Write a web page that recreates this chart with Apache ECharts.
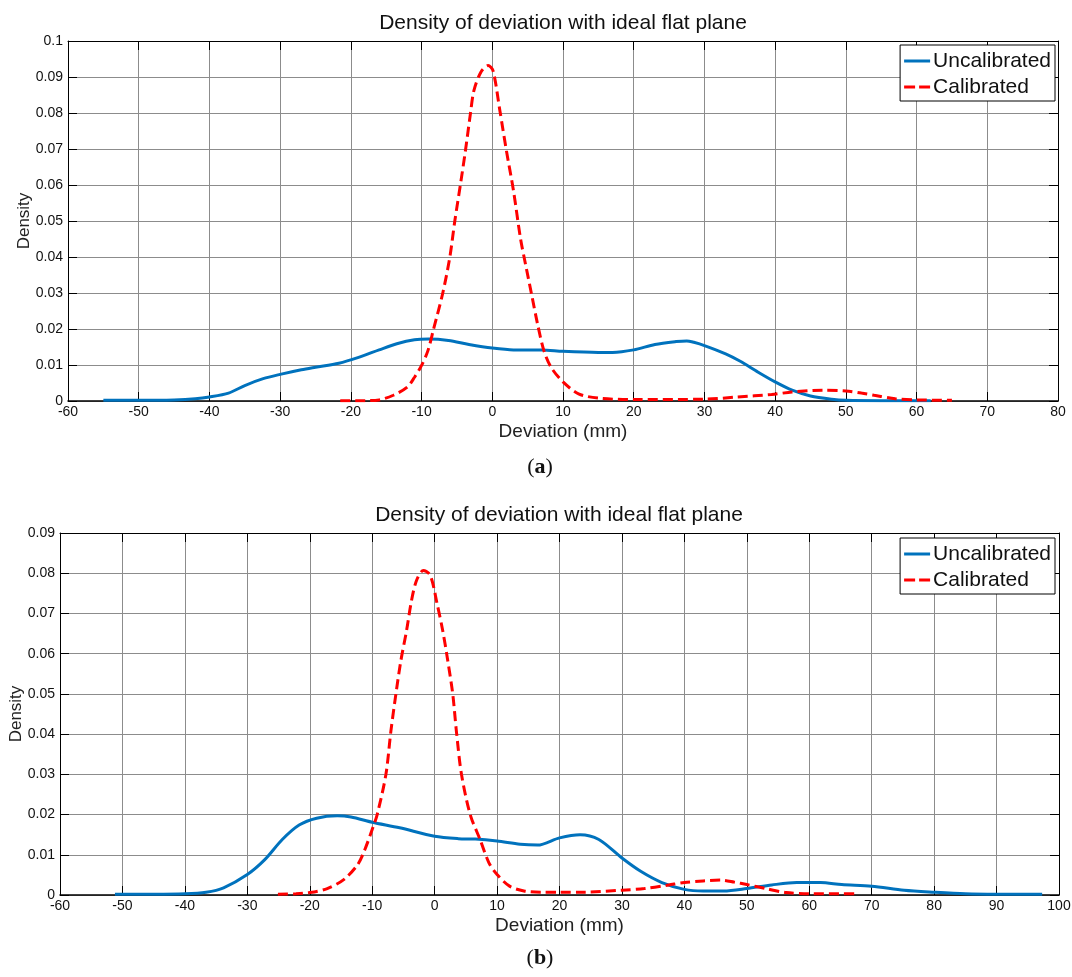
<!DOCTYPE html>
<html>
<head>
<meta charset="utf-8">
<title>Density of deviation with ideal flat plane</title>
<script src="https://cdn.jsdelivr.net/npm/echarts@6/dist/echarts.min.js"></script>
<style>
  html, body { margin: 0; padding: 0; background: #fff; }
  #main { width: 1072px; height: 977px; }
</style>
</head>
<body>
<div id="main"></div>
<script>
// ---- data ----
// (a) deviation (mm) / density
var uncalA_x = [-55, -50, -45, -42, -40, -37.3, -35, -32.4, -30, -27, -25, -21.7, -18.8, -16, -13.5, -11, -9, -6.2, -3.3, 0, 3, 7, 10, 15, 17, 20, 23, 26, 27.5, 28.5, 30, 33, 35, 37.6, 40, 42.4, 45, 48, 50, 55, 62];
var uncalA_y = [0.0002, 0.0002, 0.0003, 0.0006, 0.0011, 0.0022, 0.0043, 0.0062, 0.0074, 0.0087, 0.0094, 0.0105, 0.0122, 0.0142, 0.0159, 0.0170, 0.0172, 0.0168, 0.0157, 0.0147, 0.0142, 0.0142, 0.0138, 0.0135, 0.0135, 0.0142, 0.0157, 0.0165, 0.0167, 0.0163, 0.0154, 0.0131, 0.0111, 0.0080, 0.0053, 0.0030, 0.0014, 0.0005, 0.0002, 0.0001, 0.0001];
var calA_x = [-21.5, -18, -16, -14, -12, -11, -10, -9.1, -8.3, -7, -6, -5.3, -4.5, -3.8, -3.1, -2.6, -1.6, -0.6, 0.1, 1.07, 2, 3, 4, 4.7, 5.6, 6.4, 7.3, 8.3, 10, 12.2, 15, 20, 30, 34.6, 39.5, 42.4, 46.8, 50, 52.2, 54, 57, 60, 65];
var calA_y = [0.0001, 0.0001, 0.0003, 0.0016, 0.0039, 0.0066, 0.0099, 0.0140, 0.0200, 0.0300, 0.0400, 0.0500, 0.0602, 0.0695, 0.0797, 0.0862, 0.0914, 0.0932, 0.0918, 0.0807, 0.0695, 0.0584, 0.0450, 0.0380, 0.0292, 0.0214, 0.0140, 0.0094, 0.0053, 0.0020, 0.0008, 0.0004, 0.0005, 0.0011, 0.0018, 0.0025, 0.0030, 0.0028, 0.0022, 0.0016, 0.0006, 0.0003, 0.0002];

// (b) deviation (mm) / density
var uncalB_x = [-51.2, -45, -40, -36.6, -33.8, -30, -27.2, -24.4, -21.7, -18.9, -15.6, -13.4, -10, -5.6, 0, 3.8, 6.5, 10, 13.7, 16.5, 20, 23.3, 26.3, 30, 33, 36.4, 40, 43, 46.3, 50, 54, 58, 61.8, 65.2, 70, 75.2, 80, 85, 90, 97.3];
var uncalB_y = [0.0002, 0.0002, 0.0003, 0.0007, 0.0018, 0.0051, 0.0088, 0.0138, 0.0174, 0.0191, 0.0197, 0.0194, 0.0181, 0.0167, 0.0146, 0.0140, 0.0139, 0.0134, 0.0126, 0.0124, 0.0142, 0.0150, 0.0138, 0.0092, 0.0059, 0.0031, 0.0014, 0.0010, 0.0010, 0.0016, 0.0025, 0.0031, 0.0031, 0.0026, 0.0022, 0.0012, 0.0007, 0.0003, 0.0002, 0.0002];
var calB_x = [-25.1, -22.2, -20, -17.2, -14.5, -12.3, -11.2, -10, -9.2, -7.8, -7, -6.2, -5.4, -4.5, -3.7, -2.9, -1.8, -0.7, 0.4, 1.3, 2.1, 2.9, 3.5, 4.3, 5.7, 7.3, 8.7, 10, 12, 14.3, 17, 20, 24, 30, 33.6, 37.5, 40, 43, 45.8, 48, 50, 53, 56.3, 60, 67.3];
var calB_y = [0.0002, 0.0003, 0.0006, 0.0016, 0.0039, 0.0076, 0.0112, 0.0163, 0.0200, 0.0300, 0.0408, 0.0500, 0.0583, 0.0657, 0.0732, 0.0782, 0.0807, 0.0795, 0.0724, 0.0657, 0.0583, 0.0500, 0.0405, 0.0300, 0.0200, 0.0137, 0.0080, 0.0051, 0.0022, 0.0010, 0.0007, 0.0007, 0.0007, 0.0012, 0.0016, 0.0025, 0.0031, 0.0035, 0.0037, 0.0032, 0.0026, 0.0016, 0.0006, 0.0003, 0.0003];

var seriesNames = ['Uncalibrated', 'Calibrated'];
var chartTitle = 'Density of deviation with ideal flat plane';

function zip(xs, ys) {
    var out = [];
    for (var i = 0; i < xs.length; i++) out.push([xs[i], ys[i]]);
    return out;
}

var FONT = 'Liberation Sans';
var BLUE = '#0072BD';
var RED = '#FF0000';
var GRIDLINE = '#8c8c8c';

// main bottom / left axes
function mainX(grid, min, max) {
    return {
        type: 'value', gridIndex: grid, min: min, max: max, interval: 10, position: 'bottom',
        name: 'Deviation (mm)', nameLocation: 'middle', nameGap: 21, nameMoveOverlap: false,
        nameTextStyle: { color: '#222', fontSize: 19, fontFamily: FONT },
        axisLine: { show: true, onZero: false, lineStyle: { color: '#000', width: 1.5 } },
        axisTick: { show: true, inside: true, length: 9, lineStyle: { color: '#000' } },
        axisLabel: { color: '#111', fontSize: 14, fontFamily: FONT, margin: 4 },
        splitLine: { show: true, lineStyle: { color: GRIDLINE, width: 1 } }
    };
}
function mainY(grid, max, gap) {
    return {
        type: 'value', gridIndex: grid, min: 0, max: max, interval: 0.01, position: 'left',
        name: 'Density', nameLocation: 'middle', nameGap: gap, nameMoveOverlap: false,
        nameTextStyle: { color: '#222', fontSize: 17, fontFamily: FONT },
        axisLine: { show: true, onZero: false, lineStyle: { color: '#000', width: 1 } },
        axisTick: { show: true, inside: true, length: 9, lineStyle: { color: '#000' } },
        axisLabel: {
            color: '#111', fontSize: 14, fontFamily: FONT, margin: 5,
            formatter: function (v) { return String(Math.round(v * 100) / 100); }
        },
        splitLine: { show: true, lineStyle: { color: GRIDLINE, width: 1 } }
    };
}
// box edges: top / right with inward ticks only
function boxX(grid, min, max) {
    return {
        type: 'value', gridIndex: grid, min: min, max: max, interval: 10, position: 'top',
        axisLine: { show: true, onZero: false, lineStyle: { color: '#000', width: 1 } },
        axisTick: { show: true, inside: true, length: 9, lineStyle: { color: '#000' } },
        axisLabel: { show: false }, splitLine: { show: false }
    };
}
function boxY(grid, max) {
    return {
        type: 'value', gridIndex: grid, min: 0, max: max, interval: 0.01, position: 'right',
        axisLine: { show: true, onZero: false, lineStyle: { color: '#000', width: 1 } },
        axisTick: { show: true, inside: true, length: 9, lineStyle: { color: '#000' } },
        axisLabel: { show: false }, splitLine: { show: false }
    };
}

function legendAt(top) {
    return {
        data: [
            { name: seriesNames[0], icon: 'rect' },
            { name: seriesNames[1], icon: 'path://M0,0h11v3h-11z M15,0h11v3h-11z' }
        ],
        orient: 'vertical', right: 17, top: top,
        backgroundColor: '#fff', borderColor: '#000', borderWidth: 1, borderRadius: 0,
        padding: [5, 4, 3, 4], itemGap: 4, itemWidth: 26, itemHeight: 3,
        textStyle: { color: '#111', fontSize: 21, fontFamily: FONT, lineHeight: 22, padding: [0, 0, 0, -2] }
    };
}

function uncal(name, xi, data) {
    return {
        name: name, type: 'line', xAxisIndex: xi, yAxisIndex: xi, data: data,
        showSymbol: false, symbol: 'none', smooth: 0.3, z: 3,
        lineStyle: { color: BLUE, width: 3 }, itemStyle: { color: BLUE }
    };
}
function cal(name, xi, data) {
    return {
        name: name, type: 'line', xAxisIndex: xi, yAxisIndex: xi, data: data,
        showSymbol: false, symbol: 'none', smooth: 0.3, z: 4,
        lineStyle: { color: RED, width: 3, type: [10, 5] }, itemStyle: { color: RED }
    };
}

var chart = echarts.init(document.getElementById('main'), null, { renderer: 'canvas' });

var option = {
    animation: false,
    backgroundColor: '#fff',
    grid: [
        { left: 68, top: 41, width: 990, height: 360, containLabel: false, outerBoundsMode: 'none' },
        { left: 60, top: 533, width: 999, height: 362, containLabel: false, outerBoundsMode: 'none' }
    ],
    xAxis: [mainX(0, -60, 80), boxX(0, -60, 80), mainX(1, -60, 100), boxX(1, -60, 100)],
    yAxis: [mainY(0, 0.1, 35), boxY(0, 0.1), mainY(1, 0.09, 35), boxY(1, 0.09)],
    legend: [legendAt(45), legendAt(538)],
    graphic: [
        { type: 'text', x: 563, y: 23, style: { text: chartTitle, fill: '#111', font: '21px "Liberation Sans"', align: 'center', verticalAlign: 'middle' } },
        { type: 'text', x: 559, y: 515, style: { text: chartTitle, fill: '#111', font: '21px "Liberation Sans"', align: 'center', verticalAlign: 'middle' } },
        {
            type: 'text', x: 540, y: 467,
            style: {
                text: '{p|(}{b|a}{p|)}', align: 'center', verticalAlign: 'middle',
                rich: {
                    p: { fontFamily: 'Liberation Serif', fontSize: 22, fill: '#111' },
                    b: { fontFamily: 'Liberation Serif', fontSize: 22, fontWeight: 'bold', fill: '#111' }
                }
            }
        },
        {
            type: 'text', x: 540, y: 958,
            style: {
                text: '{p|(}{b|b}{p|)}', align: 'center', verticalAlign: 'middle',
                rich: {
                    p: { fontFamily: 'Liberation Serif', fontSize: 22, fill: '#111' },
                    b: { fontFamily: 'Liberation Serif', fontSize: 22, fontWeight: 'bold', fill: '#111' }
                }
            }
        }
    ],
    series: [
        uncal(seriesNames[0], 0, zip(uncalA_x, uncalA_y)),
        cal(seriesNames[1], 0, zip(calA_x, calA_y)),
        uncal(seriesNames[0], 2, zip(uncalB_x, uncalB_y)),
        cal(seriesNames[1], 2, zip(calB_x, calB_y))
    ]
};

chart.setOption(option);
</script>
</body>
</html>
